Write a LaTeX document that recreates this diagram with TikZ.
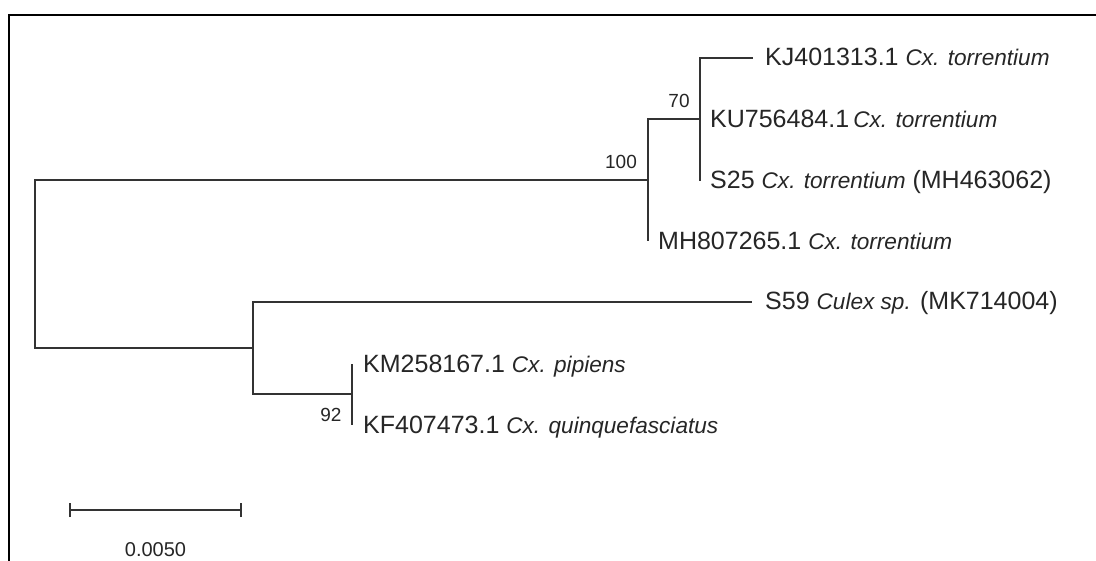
\documentclass[tikz,border=0pt]{standalone}
\usepackage{fontspec}
\setmainfont{Liberation Sans}
\newcommand\spn[1]{{\fontsize{22.6}{26}\selectfont\itshape #1}}
\begin{document}
\begin{tikzpicture}[x=1pt,y=-1pt,
  branch/.style={draw=black!80, line width=1.7pt},
  frameline/.style={draw=black, line width=2.2pt},
  leaf/.style={anchor=base west, inner sep=0pt, text=black!85, font=\fontsize{25}{30}\selectfont},
  boot/.style={anchor=center, inner sep=0pt, text=black!85, font=\fontsize{19}{22}\selectfont},
  scalelabel/.style={anchor=center, inner sep=0pt, text=black!85, font=\fontsize{20}{23}\selectfont}]
\useasboundingbox (0,0) rectangle (1096,561);
\fill[white] (0,0) rectangle (1096,561);
% frame
\draw[frameline] (9,561) -- (9,15) -- (1096,15);
% internal nodes
\coordinate (r) at (35,264);
\coordinate (a) at (648,180);
\coordinate (b) at (700,119);
\coordinate (c) at (253,348);
\coordinate (d) at (352,394);
% leaf ends
\coordinate (kj) at (753,58);
\coordinate (s25) at (700,181);
\coordinate (mh) at (648,241);
\coordinate (s59) at (752,302);
\coordinate (km) at (352,364);
\coordinate (kf) at (352,425);
% branches
\draw[branch] (r) |- (a);
\draw[branch] (r) |- (c);
\draw[branch] (a) |- (b);
\draw[branch] (a) |- (mh);
\draw[branch] (b) |- (kj);
\draw[branch] (b) |- (s25);
\draw[branch] (c) |- (s59);
\draw[branch] (c) |- (d);
\draw[branch] (d) |- (km);
\draw[branch] (d) |- (kf);
% leaf labels
\node[leaf] (lkj) at ([shift={(12,8)}]kj) {KJ401313.1 \spn{Cx. torrentium}};
\node[leaf] (lku) at ([shift={(10,9)}]b) {KU756484.1\,\spn{Cx. torrentium}};
\node[leaf] (ls25) at ([shift={(10,8)}]s25) {S25 \spn{Cx. torrentium} (MH463062)};
\node[leaf] (lmh) at ([shift={(10,9)}]mh) {MH807265.1 \spn{Cx. torrentium}};
\node[leaf] (ls59) at ([shift={(13,8)}]s59) {S59 \spn{Culex sp.} (MK714004)};
\node[leaf] (lkm) at ([shift={(11,9)}]km) {KM258167.1 \spn{Cx. pipiens}};
\node[leaf] (lkf) at ([shift={(11,9)}]kf) {KF407473.1 \spn{Cx. quinquefasciatus}};
% bootstrap values
\node[boot] (b100) at ([shift={(-27,-18)}]a) {100};
\node[boot] (b70) at ([shift={(-21,-18)}]b) {70};
\node[boot] (b92) at ([shift={(-21,20.5)}]d) {92};
% scale bar
\coordinate (sa) at (70,510);
\coordinate (sb) at (241,510);
\draw[branch] (sa) -- (sb);
\draw[branch] ([yshift=-7pt]sa) -- ([yshift=7pt]sa);
\draw[branch] ([yshift=-7pt]sb) -- ([yshift=7pt]sb);
\node[scalelabel] (slab) at (155.5,550) {0.0050};
\end{tikzpicture}
\end{document}
